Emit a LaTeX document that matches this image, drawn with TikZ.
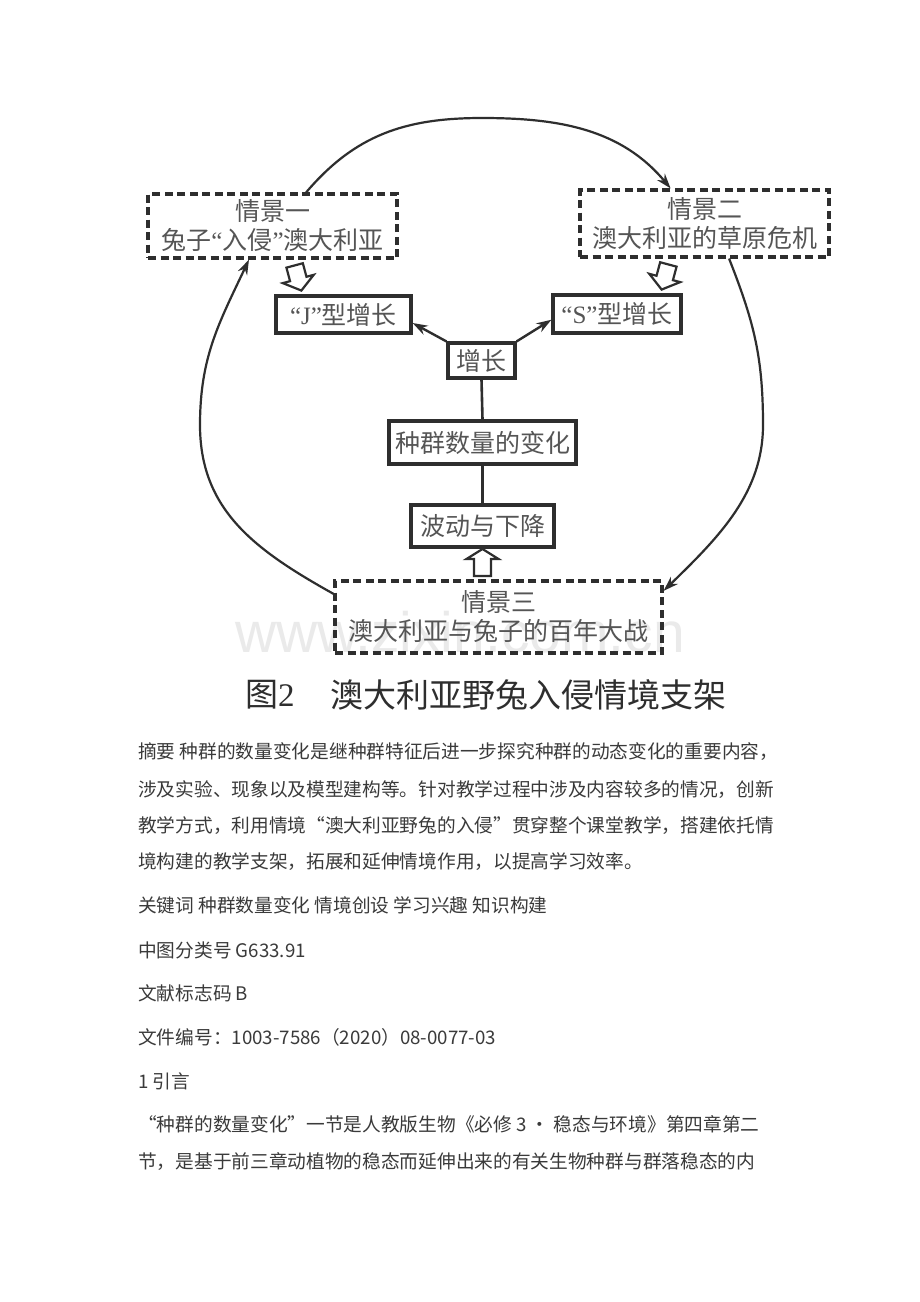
\documentclass[tikz,border=0pt]{standalone}
\usepackage{fontspec}
\setmainfont{Liberation Serif}
\newfontfamily\cjk{Noto Sans CJK SC}
\newfontfamily\wmfont{Liberation Sans}
\usetikzlibrary{arrows.meta}
\definecolor{ln}{HTML}{2E2E2E}
\definecolor{tx}{HTML}{555555}
\definecolor{bt}{HTML}{3A3A3A}
\definecolor{wm}{HTML}{EAEAEA}
\begin{document}
\begin{tikzpicture}[x=1pt,y=-1pt,
  dbox/.style={draw=ln, line width=3.2pt, dash pattern=on 8pt off 4.5pt, inner sep=0pt, align=center, text=tx, font=\cjk\fontsize{25}{29}\selectfont},
  sbox/.style={draw=ln, line width=3.2pt, inner sep=0pt, text=tx, font=\cjk\fontsize{25}{29}\selectfont},
  arc/.style={draw=ln, line width=2.2pt, -{Stealth[length=15pt,width=10pt]}},
  link/.style={draw=ln, line width=2.6pt},
  hollowp/.style={draw=ln, fill=white, line width=2.2pt, line join=miter},
  body/.style={anchor=west, inner sep=0pt, text=bt, font=\cjk\fontsize{18.7}{22}\selectfont},
  capt/.style={anchor=west, inner sep=0pt, text=ln, font=\cjk\fontsize{33}{36}\selectfont}]
\useasboundingbox (0,0) rectangle (920,1302);
\fill[white] (0,0) rectangle (920,1302);
% watermark
\node[inner sep=0pt, text=wm, font=\wmfont\fontsize{57}{60}\selectfont] (wmark) at (460,632) {www.zixin.com.cn};
% scene boxes
\node[dbox, minimum width=249pt, minimum height=64pt] (b1) at (272.5,226) {情景一\\兔子{\rmfamily “}入侵{\rmfamily ”}澳大利亚};
\node[dbox, minimum width=249pt, minimum height=67pt] (b2) at (704.5,223.5) {情景二\\澳大利亚的草原危机};
\node[dbox, minimum width=327pt, minimum height=72pt] (b3) at (498.5,617) {情景三\\澳大利亚与兔子的百年大战};
% solid boxes
\node[sbox, minimum width=135pt, minimum height=37pt] (J) at (343.5,314.5) {{\rmfamily “J”}型增长};
\node[sbox, minimum width=128pt, minimum height=38pt] (S) at (617,314) {{\rmfamily “S”}型增长};
\node[sbox, minimum width=67pt, minimum height=35pt] (zz) at (481.5,360.5) {增长};
\node[sbox, minimum width=187pt, minimum height=43pt] (zq) at (482.5,442.5) {种群数量的变化};
\node[sbox, minimum width=143pt, minimum height=42pt] (bd) at (482.5,526) {波动与下降};
% hollow arrows
\draw[hollowp, shift={(298,278)}, rotate=15] (-8.5,-13) -- (8.5,-13) -- (8.5,1) -- (16,1) -- (0,13) -- (-16,1) -- (-8.5,1) -- cycle;
\draw[hollowp, shift={(665,277)}, rotate=-15] (-8.5,-13) -- (8.5,-13) -- (8.5,1) -- (16,1) -- (0,13) -- (-16,1) -- (-8.5,1) -- cycle;
\draw[hollowp, shift={(482.5,563)}, rotate=180] (-8.5,-13) -- (8.5,-13) -- (8.5,4) -- (16,4) -- (0,14) -- (-16,4) -- (-8.5,4) -- cycle;
% links
\draw[link] (zz.south) -- (zq.north);
\draw[link] (zq.south) -- (bd.north);
\draw[arc, line width=2.4pt] (zz.north west) -- (J.-7);
\draw[arc, line width=2.4pt] (zz.north east) -- (S.185);
% big cycle
\draw[arc] (b1.45) .. controls (355,135) and (405,118) .. (482,118)
  .. controls (559,118) and (621,129) .. (b2.134);
\draw[arc] (b2.-55) .. controls (754,322) and (763,357) .. (763,425)
  .. controls (763,493) and (719,537) .. (b3.9);
\draw[arc] (b3.172) .. controls (255,550) and (200,510) .. (200,425)
  .. controls (200,357) and (219,323) .. (b1.-125);
% caption
\node[capt] (cap1) at (245,695) {图{\rmfamily 2}};
\node[capt] (cap2) at (330,695) {澳大利亚野兔入侵情境支架};
% body text
\node[body] (t1) at (138,752) {摘要 种群的数量变化是继种群特征后进一步探究种群的动态变化的重要内容，};
\node[body] (t2) at (138,790) {涉及实验、现象以及模型建构等。针对教学过程中涉及内容较多的情况，创新};
\node[body] (t3) at (138,826) {教学方式，利用情境“澳大利亚野兔的入侵”贯穿整个课堂教学，搭建依托情};
\node[body] (t4) at (138,862) {境构建的教学支架，拓展和延伸情境作用，以提高学习效率。};
\node[body] (t5) at (138,905) {关键词 种群数量变化 情境创设 学习兴趣 知识构建};
\node[body] (t6) at (138,950) {中图分类号 G633.91};
\node[body] (t7) at (138,993) {文献标志码 B};
\node[body] (t8) at (138,1037) {文件编号：1003-7586（2020）08-0077-03};
\node[body] (t9) at (138,1081) {1 引言};
\node[body] (t10) at (138,1124) {“种群的数量变化”一节是人教版生物《必修 3 • 稳态与环境》第四章第二};
\node[body] (t11) at (138,1162) {节，是基于前三章动植物的稳态而延伸出来的有关生物种群与群落稳态的内};
\end{tikzpicture}
\end{document}
